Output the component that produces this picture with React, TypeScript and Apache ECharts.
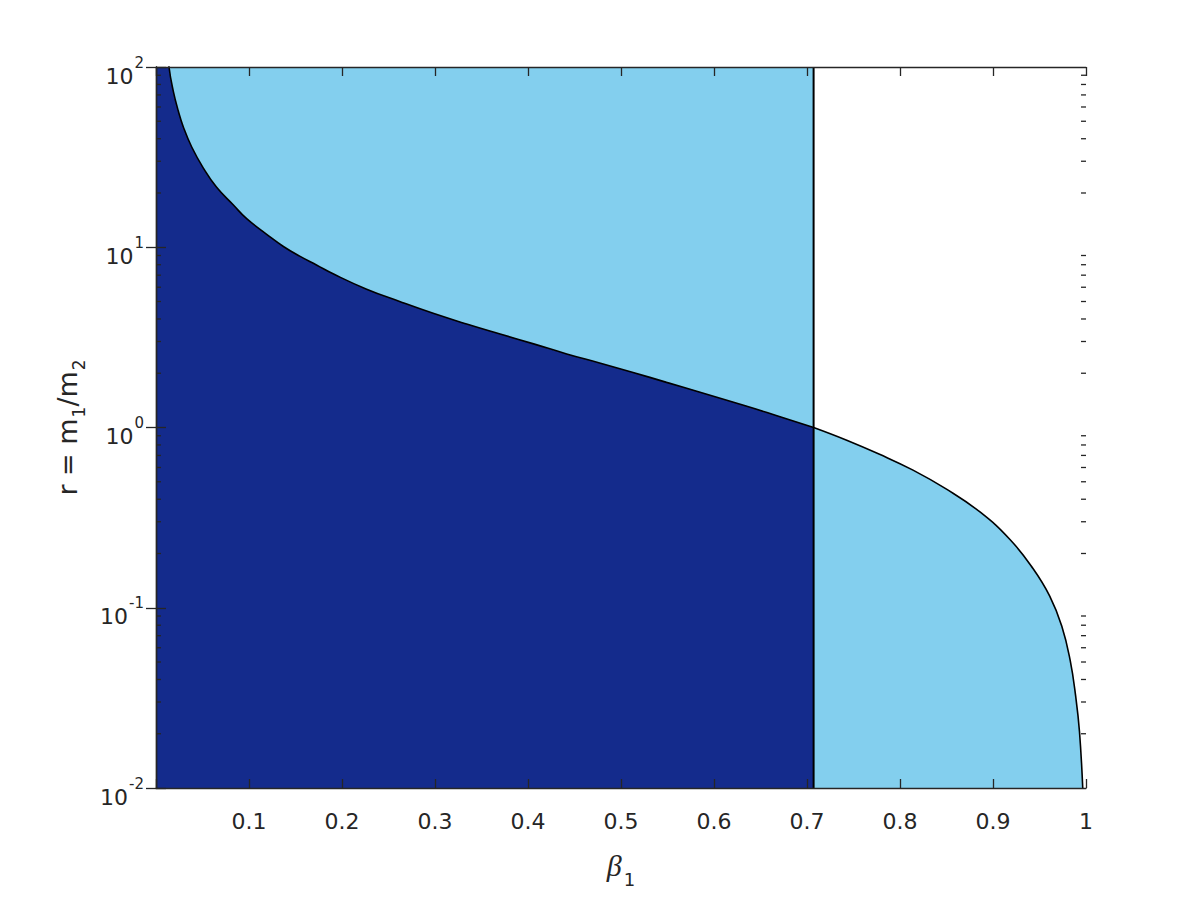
import React, { useEffect, useRef } from "react";
import * as echarts from "echarts";

// beta_1 values
const curveBeta = [
  0, 0.005, 0.014, 0.0187, 0.024, 0.0294, 0.0384, 0.0509, 0.0652, 0.083, 0.0975,
  0.119, 0.137, 0.155, 0.173, 0.191, 0.2265, 0.262, 0.298, 0.334, 0.37, 0.406,
  0.4416, 0.477, 0.513, 0.549, 0.585, 0.621, 0.657, 0.7071, 0.7427, 0.778, 0.814,
  0.85, 0.886, 0.918, 0.943, 0.961, 0.974, 0.983, 0.989, 0.993, 0.9965,
];
// r = m1/m2 values
const curveR = [
  10000, 280, 100, 73, 57, 46.5, 36, 27.5, 21.5, 17.2, 14.4,
  11.8, 10.1, 8.9, 7.95, 7.1, 5.85, 5.0, 4.3, 3.75, 3.3, 2.91,
  2.56, 2.28, 2.02, 1.78, 1.57, 1.38, 1.21, 1.0, 0.85, 0.71, 0.58,
  0.455, 0.34, 0.24, 0.165, 0.116, 0.079, 0.051, 0.032, 0.0205, 0.01,
];
// vertical divider position (beta_1 = 1/sqrt(2))
const splitBeta = 0.7071;
const xMin = 0;
const xMax = 1;
const xStep = 0.1;
const yMin = 0.01;
const yMax = 100;
const minorTickValues = [-2, -1, 0, 1].flatMap((e) =>
  [2, 3, 4, 5, 6, 7, 8, 9].map((k) => k * Math.pow(10, e))
);

const DARK = "#142B8C";
const LIGHT = "#83CFEE";
const AXIS = "#262626";
const FONT = "DejaVu Sans";
const SMOOTH = 0.45;

export default function App() {
  const ref = useRef<HTMLDivElement>(null);
  useEffect(() => {
    if (!ref.current) return;
    const chart = echarts.init(ref.current, null, { renderer: "svg" });
    const pts = curveBeta.map((b, i) => [b, curveR[i]]);
    const leftPts = pts.filter((p) => p[0] <= splitBeta);
    const rightPts = pts.filter((p) => p[0] >= splitBeta);

    const axisLine = { show: true, lineStyle: { color: AXIS, width: 1.4 } };
    const tickStyle = { color: AXIS, width: 1.3 };

    chart.setOption({
      animation: false,
      backgroundColor: "#ffffff",
      grid: { left: 156, top: 67, right: 114, bottom: 112, containLabel: false },
      xAxis: [
        {
          type: "value",
          min: xMin,
          max: xMax,
          interval: xStep,
          position: "bottom",
          z: 10,
          axisLine,
          axisTick: { show: true, inside: true, length: 9, lineStyle: tickStyle },
          splitLine: { show: false },
          axisLabel: {
            fontSize: 22,
            fontFamily: FONT,
            color: AXIS,
            margin: 22,
            formatter: (v: number) => (v === 0 ? "" : String(+v.toFixed(1))),
          },
          name: "{b|β}{s|1}",
          nameLocation: "middle",
          nameGap: 62,
          nameTextStyle: {
            rich: {
              b: {
                fontSize: 30,
                fontFamily: "Liberation Serif",
                fontStyle: "italic",
                color: AXIS,
                lineHeight: 32,
                verticalAlign: "top",
              },
              s: {
                fontSize: 18,
                fontFamily: FONT,
                color: AXIS,
                lineHeight: 18,
                verticalAlign: "top",
                padding: [20, 0, 0, 2],
              },
            },
          },
        },
        {
          type: "value",
          min: xMin,
          max: xMax,
          interval: xStep,
          position: "top",
          z: 10,
          axisLine,
          axisTick: { show: true, inside: true, length: 9, lineStyle: tickStyle },
          splitLine: { show: false },
          axisLabel: { show: false },
        },
      ],
      yAxis: [
        {
          type: "log",
          logBase: 10,
          min: yMin,
          max: yMax,
          position: "left",
          z: 10,
          axisLine,
          axisTick: { show: true, inside: true, length: 10, lineStyle: tickStyle },
          splitLine: { show: false },
          axisLabel: {
            margin: 12,
            formatter: (v: number) => `{b|10}{s|${Math.round(Math.log10(v))}}`,
            rich: {
              b: {
                fontSize: 22,
                fontFamily: FONT,
                color: AXIS,
                lineHeight: 24,
                verticalAlign: "top",
                padding: [10, 0, 0, 0],
              },
              s: {
                fontSize: 15,
                fontFamily: FONT,
                color: AXIS,
                lineHeight: 16,
                verticalAlign: "top",
                padding: [0, 0, 0, 1],
              },
            },
          },
          name: "{b|r = m}{s|1}{b|/m}{s|2}",
          nameLocation: "middle",
          nameGap: 72,
          nameRotate: 90,
          nameTextStyle: {
            rich: {
              b: {
                fontSize: 27,
                fontFamily: FONT,
                color: AXIS,
                lineHeight: 30,
                verticalAlign: "top",
              },
              s: {
                fontSize: 17,
                fontFamily: FONT,
                color: AXIS,
                lineHeight: 18,
                verticalAlign: "top",
                padding: [16, 0, 0, 1],
              },
            },
          },
        },
        {
          type: "log",
          logBase: 10,
          min: yMin,
          max: yMax,
          position: "right",
          z: 10,
          axisLine,
          axisTick: { show: true, inside: true, length: 10, lineStyle: tickStyle },
          splitLine: { show: false },
          axisLabel: { show: false },
        },
      ],
      series: [
        {
          type: "line",
          z: 1,
          data: [
            [xMin, yMax],
            [splitBeta, yMax],
          ],
          symbol: "none",
          lineStyle: { width: 0 },
          areaStyle: { color: LIGHT, opacity: 1, origin: "start" },
          silent: true,
        },
        {
          type: "line",
          z: 2,
          data: leftPts,
          symbol: "none",
          smooth: SMOOTH,
          lineStyle: { width: 0 },
          areaStyle: { color: DARK, opacity: 1, origin: "start" },
          silent: true,
        },
        {
          type: "line",
          z: 2,
          data: rightPts,
          symbol: "none",
          smooth: SMOOTH,
          lineStyle: { width: 0 },
          areaStyle: { color: LIGHT, opacity: 1, origin: "start" },
          silent: true,
        },
        {
          type: "line",
          z: 3,
          data: leftPts,
          symbol: "none",
          smooth: SMOOTH,
          lineStyle: { color: "#000000", width: 1.6 },
          silent: true,
        },
        {
          type: "line",
          z: 3,
          data: rightPts,
          symbol: "none",
          smooth: SMOOTH,
          lineStyle: { color: "#000000", width: 1.6 },
          silent: true,
        },
        {
          type: "line",
          z: 4,
          data: [
            [splitBeta, yMin],
            [splitBeta, yMax],
          ],
          symbol: "none",
          lineStyle: { color: "#000000", width: 2 },
          silent: true,
        },
        {
          type: "custom",
          z: 11,
          silent: true,
          data: minorTickValues.map((v) => [xMin, v]),
          encode: { x: 0, y: 1 },
          renderItem: (params: any, api: any) => {
            const y = api.coord([xMin, api.value(1)])[1];
            const cs = params.coordSys;
            const style = { stroke: AXIS, lineWidth: 1.3 };
            return {
              type: "group",
              children: [
                { type: "line", shape: { x1: cs.x, y1: y, x2: cs.x + 5, y2: y }, style },
                {
                  type: "line",
                  shape: { x1: cs.x + cs.width, y1: y, x2: cs.x + cs.width - 5, y2: y },
                  style,
                },
              ],
            };
          },
        },
      ],
    });
    return () => chart.dispose();
  }, []);
  return (
    <div
      ref={ref}
      style={{ position: "fixed", left: 0, top: 0, width: 1200, height: 900, background: "#fff" }}
    />
  );
}
